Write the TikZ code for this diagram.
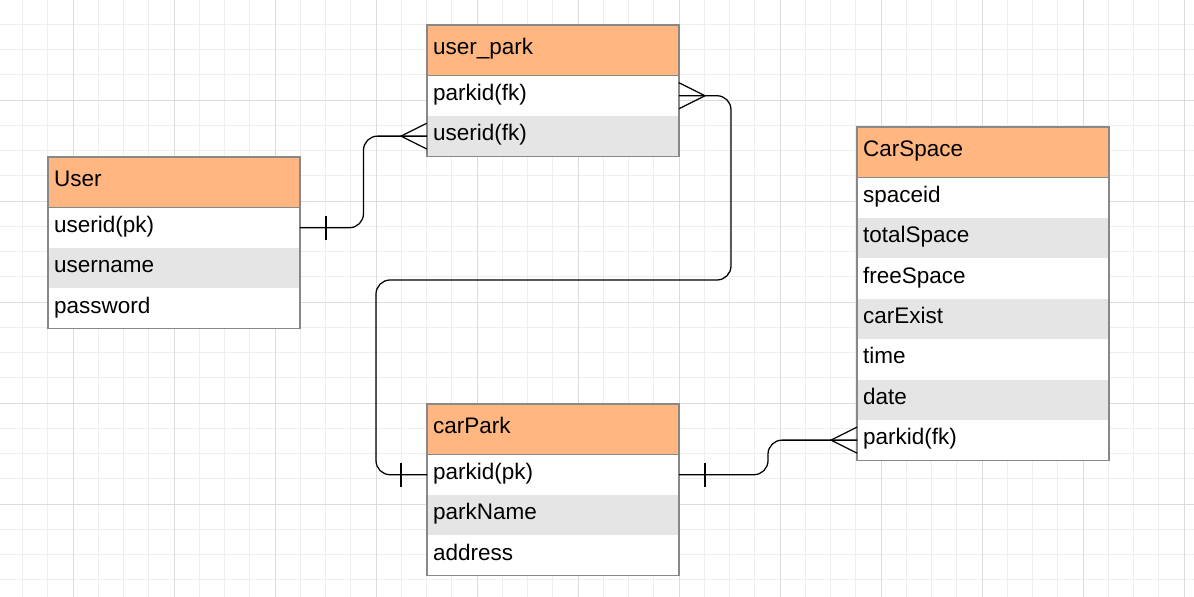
\documentclass[tikz,border=0pt]{standalone}
\usepackage{fontspec}
\setmainfont{Liberation Sans}
\usetikzlibrary{calc,positioning}
\definecolor{headfill}{HTML}{FFB680}
\definecolor{rowgray}{HTML}{E5E5E5}
\definecolor{boxline}{HTML}{888888}
\definecolor{gridminor}{HTML}{EEEEEE}
\definecolor{gridmajor}{HTML}{DCDCDC}

\tikzset{
  cell/.style={anchor=north west, inner xsep=4.3pt, inner ysep=0pt, outer sep=0pt,
    text width=170.6pt, align=left, font=\fontsize{16}{19}\selectfont,
    text height=11.5pt, text depth=5pt, minimum height=1.01cm},
  enthead/.style={cell, fill=headfill, draw=boxline, line width=0.8pt, minimum height=1.2625cm},
  conn/.style={line width=0.9pt, rounded corners=10pt},
  pics/crowfoot/.style={code={\draw[line width=0.9pt] (0,-13) -- (26,0) -- (0,13);}},
  pics/onebar/.style={code={\draw[line width=0.9pt] (26,-12) -- (26,12);}}
}

% entity: name, top left corner, title, attribute rows
\newcommand{\erentity}[4]{
  \node[enthead] (#1) at (#2) {#3};
  \foreach \txt [count=\k] in {#4} {
    \ifodd\k \def\rowcol{white}\else\def\rowcol{rowgray}\fi
    \node[cell, fill=\rowcol] (#1-\k) at ($(#1.south west)+(0,{40.4*(\k-1)})$) {\txt};
    \xdef\lastrow{\k}
  }
  \draw[draw=boxline, line width=0.8pt] (#1.north west) rectangle (#1-\lastrow.south east);
}

\begin{document}
\begin{tikzpicture}[x=0.025cm, y=-0.025cm]
  \useasboundingbox (0,0) rectangle (1194,597);
  % background grid
  \foreach \i in {0,...,46}
    \draw[gridminor, line width=0.6pt] ({22.5+25.25*\i},0) -- ({22.5+25.25*\i},597);
  \foreach \j in {1,...,23}
    \draw[gridminor, line width=0.6pt] (0,{-1+25.25*\j}) -- (1194,{-1+25.25*\j});
  \foreach \i in {0,...,11}
    \draw[gridmajor, line width=0.6pt] ({73+101*\i},0) -- ({73+101*\i},597);
  \foreach \j in {0,...,4}
    \draw[gridmajor, line width=0.6pt] (0,{100+101*\j}) -- (1194,{100+101*\j});

  % entities
  \erentity{user}{48,157}{User}{userid(pk),username,password}
  \erentity{upark}{427,25}{user\_park}{parkid(fk),userid(fk)}
  \erentity{cspace}{857,127}{CarSpace}{spaceid,totalSpace,freeSpace,carExist,time,date,parkid(fk)}
  \erentity{cpark}{427,404}{carPark}{parkid(pk),parkName,address}

  % relations
  \coordinate (loop-r) at (731,280);
  \coordinate (loop-l) at (376,280);
  \draw[conn] (user-1.east) -- ++(63.5,0) |- (upark-2.west);
  \draw[conn] (upark-1.east) -| (loop-r) -- (loop-l) |- (cpark-1.west);
  \draw[conn] (cpark-1.east) -- ++(89,0) |- (cspace-7.west);

  \pic at (user-1.east) {onebar};
  \pic[rotate=180] at (upark-2.west) {crowfoot};
  \pic at (upark-1.east) {crowfoot};
  \pic[rotate=180] at (cpark-1.west) {onebar};
  \pic at (cpark-1.east) {onebar};
  \pic[rotate=180] at (cspace-7.west) {crowfoot};
\end{tikzpicture}
\end{document}
